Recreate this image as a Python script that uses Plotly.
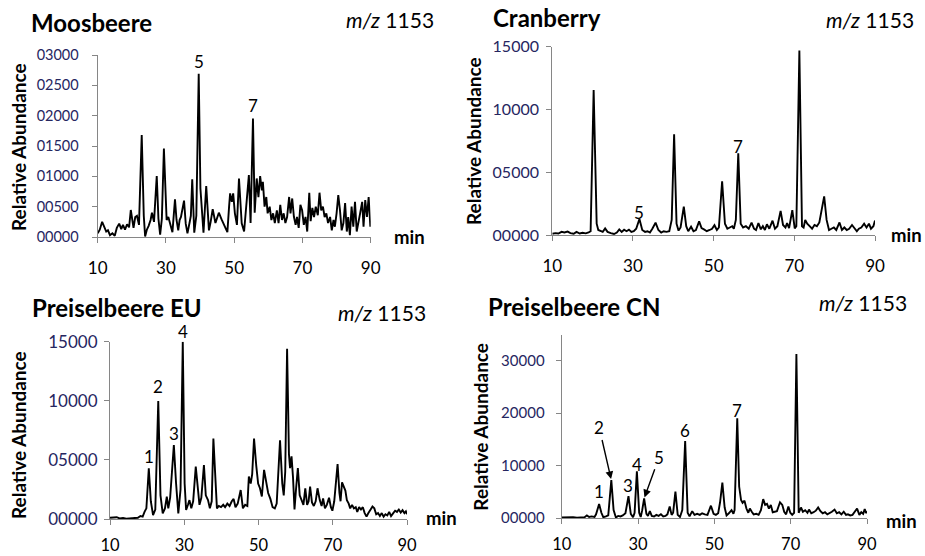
import plotly.graph_objects as go

W, H = 925, 556
FONT = "Lato"

# ---- Moosbeere: retention time (min) and abundance ----
moos_t = [10.0, 10.6, 11.3, 11.9, 12.5, 13.0, 13.6, 14.3, 15.0, 15.6, 16.3, 16.9, 17.4, 18.0, 18.6,
          19.2, 19.7, 20.5, 21.0, 21.5, 22.1, 22.9, 23.5, 23.9, 24.4, 24.9, 25.5, 25.9, 26.5, 27.3,
          27.8, 28.3, 28.8, 29.4, 30.0, 30.2, 30.7, 31.2, 31.9, 32.65, 33.1, 33.6, 34.0, 34.4, 35.3,
          35.8, 36.3, 36.9, 37.3, 37.7, 38.3, 38.9, 39.6, 40.1, 40.5, 41.0, 41.8, 42.6, 43.1, 43.7,
          44.5, 45.0, 45.5, 46.3, 47.3, 48.0, 48.5, 48.8, 49.3, 49.7, 50.2, 50.8, 51.4, 52.2, 52.9,
          53.7, 54.3, 54.8, 55.5, 56.0, 56.6, 57.1, 57.6, 58.1, 58.4, 58.9, 59.4, 59.8, 60.4, 60.9,
          61.4, 61.9, 62.5, 63.0, 63.5, 64.0, 64.5, 65.0, 65.5, 66.1, 66.5, 67.0, 67.5, 68.0, 68.4,
          68.9, 69.4, 69.9, 70.4, 70.9, 71.4, 72.0, 72.4, 72.9, 73.4, 73.9, 74.5, 75.0, 75.5, 76.0,
          76.5, 77.0, 77.5, 78.1, 78.6, 79.1, 79.5, 80.0, 80.5, 81.0, 81.5, 82.0, 82.5, 83.0, 83.4,
          83.9, 84.4, 84.9, 85.4, 85.9, 86.4, 86.9, 87.5, 87.9, 88.4, 88.9, 89.4, 89.9]
moos_y = [60, 120, 250, 180, 90, 110, 30, 60, 20, 150, 220, 130, 200, 120, 210,
          160, 445, 150, 330, 350, 200, 1680, 350, 10, 120, 180, 280, 400, 250, 1005,
          300, 40, 300, 1460, 450, 280, 330, 230, 80, 620, 280, 110, 280, 330, 600,
          220, 60, 230, 350, 950, 70, 350, 2690, 800, 510, 70, 840, 110, 250, 460,
          230, 330, 400, 290, 170, 80, 500, 720, 580, 720, 390, 200, 965, 225, 90,
          665, 1020, 230, 1955, 400, 965, 655, 1005, 770, 910, 500, 660, 390, 500, 280,
          390, 230, 440, 230, 530, 280, 390, 230, 330, 660, 390, 635, 330, 200, 330,
          150, 530, 440, 200, 330, 90, 730, 260, 480, 330, 500, 360, 730, 440, 500,
          330, 390, 230, 330, 110, 280, 170, 390, 690, 440, 110, 230, 560, 90, 330,
          30, 500, 170, 580, 90, 280, 390, 580, 170, 610, 330, 660, 170]

# ---- Cranberry ----
cran_t = [10.0, 10.8, 11.5, 12.3, 13.0, 13.8, 14.5, 15.3, 16.0, 16.8, 17.5, 18.3, 19.0, 19.5, 20.25,
          21.0, 21.4, 22.0, 22.5, 23.1, 23.7, 24.5, 25.3, 26.0, 26.6, 27.2, 27.8, 28.4, 29.0, 29.6,
          30.2, 30.8, 31.6, 32.3, 33.0, 33.6, 34.2, 34.8, 35.6, 36.3, 37.0, 37.6, 38.3, 39.0, 39.6,
          40.2, 40.8, 41.3, 41.8, 42.6, 43.2, 43.7, 44.4, 45.0, 45.6, 46.4, 47.0, 47.6, 48.3, 49.0,
          49.6, 50.2, 50.8, 51.3, 52.1, 52.8, 53.4, 54.0, 54.6, 55.0, 55.5, 56.1, 56.7, 57.3, 58.0,
          58.7, 59.4, 60.0, 60.5, 61.1, 61.7, 62.2, 62.7, 63.2, 63.8, 64.6, 65.2, 65.8, 66.6, 67.2,
          67.8, 68.2, 68.7, 69.5, 70.1, 70.5, 71.25, 71.9, 72.3, 72.7, 73.2, 73.8, 74.4, 75.0, 75.6,
          76.2, 76.7, 77.4, 78.0, 78.6, 79.2, 79.8, 80.4, 81.2, 81.8, 82.4, 83.0, 83.6, 84.3, 84.9,
          85.5, 86.0, 86.6, 87.3, 87.9, 88.5, 89.0, 89.6, 90.0]
cran_y = [100, 150, 120, 250, 200, 270, 150, 100, 250, 120, 180, 130, 200, 300, 11550,
          900, 400, 300, 250, 530, 250, 150, 80, 200, 450, 250, 420, 300, 430, 250,
          300, 500, 1275, 400, 250, 300, 200, 500, 980, 400, 200, 300, 250, 300, 1200,
          8020, 900, 350, 600, 2260, 700, 300, 660, 300, 400, 1080, 550, 450, 300, 400,
          500, 780, 400, 600, 4280, 900, 500, 600, 700, 500, 1200, 6500, 900, 600, 700,
          500, 980, 500, 400, 950, 450, 700, 400, 850, 500, 1140, 500, 700, 1920, 800,
          600, 950, 550, 1980, 530, 700, 14700, 700, 600, 1200, 900, 700, 500, 800, 700,
          1000, 1800, 3080, 1200, 400, 500, 600, 400, 1000, 400, 600, 400, 500, 800, 500,
          300, 500, 600, 900, 600, 900, 500, 700, 1150]

# ---- Preiselbeere EU ----
eu_t = [10.0, 11.0, 11.8, 12.6, 13.5, 14.4, 15.2, 16.0, 16.8, 17.5, 18.2, 18.8, 19.3, 19.8, 20.45,
        21.0, 21.6, 22.2, 23.0, 23.6, 24.2, 24.8, 25.3, 25.7, 26.2, 26.8, 27.2, 27.8, 28.4, 29.0,
        29.6, 30.1, 30.5, 31.0, 31.4, 31.9, 32.4, 33.1, 33.6, 34.1, 34.6, 35.3, 35.8, 36.4, 36.9,
        37.4, 37.85, 38.4, 38.8, 39.3, 39.9, 40.5, 41.0, 41.6, 42.2, 42.8, 43.3, 43.8, 44.4, 45.2,
        45.8, 46.4, 47.0, 47.4, 47.9, 48.3, 48.8, 49.4, 49.9, 50.4, 50.9, 51.5, 52.0, 52.6, 53.2,
        53.8, 54.4, 54.9, 55.8, 56.4, 56.8, 57.2, 57.7, 58.2, 58.5, 58.9, 59.3, 59.7, 60.1, 60.6,
        61.1, 61.6, 62.1, 62.6, 63.1, 63.5, 63.9, 64.4, 64.9, 65.4, 65.9, 66.5, 67.0, 67.4, 67.9,
        68.4, 69.0, 69.5, 69.9, 70.4, 71.3, 71.8, 72.1, 72.5, 73.0, 73.4, 73.8, 74.3, 74.7, 75.2,
        75.7, 76.2, 76.6, 77.1, 77.6, 78.1, 78.6, 79.1, 79.6, 80.2, 80.7, 81.2, 81.7, 82.2, 82.7,
        83.2, 83.7, 84.2, 84.7, 85.2, 85.7, 86.3, 86.8, 87.3, 87.8, 88.3, 88.8, 89.3, 89.7, 90.0]
eu_y = [100, 100, 150, 50, 80, 30, 60, 50, 120, 100, 250, 200, 600, 900, 4290,
        1500, 330, 800, 9980, 2000, 480, 900, 1900, 900, 1800, 4200, 6260, 3000, 480, 2500,
        15000, 3000, 760, 1200, 1600, 900, 1500, 4430, 2600, 1200, 1800, 4570, 2000, 1600, 900,
        1500, 6800, 2500, 900, 1100, 1000, 1200, 1000, 1300, 1100, 1500, 1700, 1000, 1300, 2450,
        900, 1200, 1100, 3600, 3000, 3800, 6800, 4500, 3000, 2600, 1900, 4150, 3400, 2200, 1700,
        1000, 900, 1300, 6650, 3000, 2000, 4000, 14400, 5500, 4300, 5300, 3500, 800, 2500, 4300,
        2000, 1600, 1200, 2600, 1200, 1500, 2750, 1400, 1100, 1500, 2600, 1600, 1100, 1750, 900,
        1200, 1800, 1000, 700, 1500, 4650, 2200, 1500, 3100, 2600, 2400, 1600, 1300, 900, 1200,
        900, 1000, 600, 1000, 800, 1000, 500, 200, 500, 800, 1050, 900, 400, 500, 250,
        500, 200, 400, 300, 600, 250, 500, 700, 600, 800, 550, 750, 500, 650, 400]

# ---- Preiselbeere CN ----
cn_t = [10.0, 11.0, 12.0, 13.0, 14.0, 15.0, 16.0, 16.6, 17.2, 17.8, 18.6, 19.0, 19.8, 20.4, 20.9,
        21.6, 22.2, 23.0, 23.6, 24.2, 24.8, 25.4, 26.0, 26.7, 27.5, 28.1, 28.7, 29.1, 29.7, 30.3,
        30.7, 31.1, 31.6, 32.2, 32.6, 33.1, 33.6, 34.2, 34.8, 35.4, 36.0, 36.6, 37.2, 37.7, 38.3,
        38.8, 39.2, 39.8, 40.4, 41.0, 41.6, 42.35, 43.0, 43.5, 44.2, 44.8, 45.5, 46.2, 46.8, 47.5,
        48.2, 49.1, 49.8, 50.4, 51.0, 51.5, 52.1, 52.7, 53.2, 53.8, 54.5, 55.0, 55.3, 56.0, 56.5,
        57.0, 57.4, 57.9, 58.4, 58.9, 59.3, 59.8, 60.3, 61.0, 61.6, 62.2, 62.8, 63.3, 63.8, 64.3,
        64.8, 65.3, 65.8, 66.4, 67.2, 67.8, 68.3, 68.8, 69.4, 69.9, 70.4, 70.9, 71.5, 72.1, 72.7,
        73.2, 73.8, 74.4, 74.8, 75.4, 76.0, 76.6, 77.2, 77.8, 78.4, 79.0, 79.6, 80.2, 80.8, 81.5,
        82.1, 82.7, 83.3, 83.9, 84.5, 85.0, 85.6, 86.2, 86.8, 87.4, 88.0, 88.5, 89.0, 89.4, 89.8, 90.0]
cn_y = [100, 150, 100, 150, 80, 120, 150, 500, 200, 300, 200, 700, 2650, 1000, 150,
        300, 500, 7250, 1500, 100, 400, 300, 500, 900, 4150, 800, 150, 1000, 8900, 1000,
        200, 1500, 3750, 800, 400, 1300, 400, 300, 600, 400, 700, 300, 400, 700, 2200,
        600, 1000, 5050, 600, 200, 1500, 14700, 1000, 300, 1300, 600, 800, 600, 900, 700,
        600, 2350, 800, 600, 900, 3000, 6750, 2000, 500, 900, 1500, 800, 1500, 19000, 6000,
        3430, 2900, 3300, 1800, 1000, 1800, 1200, 700, 800, 600, 1500, 3600, 2500, 2700, 1800,
        2500, 1100, 1200, 1300, 3000, 2500, 1200, 700, 2200, 1000, 600, 1000, 31300, 1000, 2000,
        1200, 1500, 1000, 1600, 900, 1100, 1400, 2000, 1300, 900, 1100, 700, 900, 1200, 1600,
        900, 1100, 700, 1200, 600, 700, 500, 600, 1300, 1800, 600, 1100, 800, 1700, 900, 1300]

# axis ticks
XTICKS = [10, 30, 50, 70, 90]
YTICKS_MOOS = [0, 500, 1000, 1500, 2000, 2500, 3000]
YTICKS_CRAN = [0, 5000, 10000, 15000]
YTICKS_EU = [0, 5000, 10000, 15000]
YTICKS_CN = [0, 10000, 20000, 30000]

# numbered peaks: (label, retention time) per sample
PEAKS_MOOS = [("5", 39.6), ("7", 55.5)]
PEAKS_CRAN = [("5", 31.6), ("7", 56.1)]
PEAKS_EU = [("1", 20.45), ("2", 23.0), ("3", 27.2), ("4", 29.6)]
PEAKS_CN = [("1", 19.8), ("2", 23.0), ("3", 27.5), ("4", 29.7), ("5", 31.6), ("6", 42.35), ("7", 56.0)]

TITLES = ["Moosbeere", "Cranberry", "Preiselbeere EU", "Preiselbeere CN"]


def px(x):
    return x / W


def py(y):
    return 1 - y / H


AXIS_GRAY = "#868686"
TICK_BLUE = "#26265f"

# layout per panel in page pixels (x from left, y from top)
panels = [
    dict(t=moos_t, y=moos_y, yt=YTICKS_MOOS, ymax=3000, peaks=PEAKS_MOOS,
         xd=(97.7, 370.7), yd=(237, 55), yfs=14.5, ystand=10, xfs=17, xstand=10,
         title=(29, 22.5), mz=(436, 19.5), mn=(392, 237), ytl=(18, 147),
         shifts={"5": 0, "7": 0}),
    dict(t=cran_t, y=cran_y, yt=YTICKS_CRAN, ymax=15000, peaks=PEAKS_CRAN,
         xd=(552.3, 875), yd=(235, 46.7), yfs=16, ystand=4, xfs=17, xstand=10,
         title=(491, 17.5), mz=(916, 19), mn=(889, 235.5), ytl=(473, 141),
         shifts={"5": -6, "7": -6}),
    dict(t=eu_t, y=eu_y, yt=YTICKS_EU, ymax=15000, peaks=PEAKS_EU,
         xd=(110, 407), yd=(519, 341.7), yfs=17, ystand=3, xfs=16.5, xstand=6,
         title=(30, 307), mz=(428, 312), mn=(424, 517.5), ytl=(18, 435),
         shifts={"1": -1, "2": 2, "3": -1, "4": -2}),
    dict(t=cn_t, y=cn_y, yt=YTICKS_CN, ymax=35000, peaks=PEAKS_CN,
         xd=(561.7, 867), yd=(518, 334.5), yfs=15, ystand=8, xfs=16.5, xstand=6,
         title=(486, 306), mz=(909, 302), mn=(884, 520.5), ytl=(479.7, 427),
         shifts={"1": 0, "3": -2, "4": -6, "6": -2, "7": -5}),
]

# arrows pointing at crowded peaks (text offset in px)
ARROWS_CN = {"2": (-12, -52), "5": (15, -41)}

fig = go.Figure()
annotations = []
layout = dict(
    template="none",
    width=W, height=H, autosize=False,
    margin=dict(l=0, r=0, t=0, b=0, pad=0, autoexpand=False),
    paper_bgcolor="white", plot_bgcolor="white", showlegend=False,
    font=dict(family=FONT, color="black"),
)

for i, p in enumerate(panels, start=1):
    xa = "x" if i == 1 else f"x{i}"
    ya = "y" if i == 1 else f"y{i}"
    fig.add_trace(go.Scatter(x=p["t"], y=p["y"], mode="lines", xaxis=xa, yaxis=ya,
                             line=dict(color="black", width=1.9), hoverinfo="skip"))
    layout["xaxis" if i == 1 else f"xaxis{i}"] = dict(
        domain=[px(p["xd"][0]), px(p["xd"][1])], range=[10, 90], anchor=ya,
        tickvals=XTICKS, ticktext=[str(v) for v in XTICKS], automargin=False,
        showline=True, linecolor=AXIS_GRAY, linewidth=1.2,
        ticks="outside", ticklen=5, tickcolor=AXIS_GRAY, tickwidth=1.2,
        showgrid=False, zeroline=False, ticklabelstandoff=p["xstand"],
        tickfont=dict(family=FONT, size=p["xfs"], color="black"),
    )
    layout["yaxis" if i == 1 else f"yaxis{i}"] = dict(
        domain=[py(p["yd"][0]), py(p["yd"][1])], range=[0, p["ymax"]], anchor=xa,
        tickvals=p["yt"], ticktext=[f"{v:05d}" for v in p["yt"]], automargin=False,
        showline=True, linecolor=AXIS_GRAY, linewidth=1.2,
        ticks="outside", ticklen=5, tickcolor=AXIS_GRAY, tickwidth=1.2,
        showgrid=False, zeroline=False, ticklabelstandoff=p["ystand"],
        tickfont=dict(family=FONT, size=p["yfs"], color=TICK_BLUE),
    )

    annotations.append(dict(xref="paper", yref="paper", x=px(p["title"][0]), y=py(p["title"][1]),
                            xanchor="left", yanchor="middle", showarrow=False,
                            text=f"<b>{TITLES[i-1]}</b>", font=dict(size=24)))
    annotations.append(dict(xref="paper", yref="paper", x=px(p["mz"][0]), y=py(p["mz"][1]),
                            xanchor="right", yanchor="middle", showarrow=False,
                            text="<i>m/z</i> 1153", font=dict(size=21)))
    annotations.append(dict(xref="paper", yref="paper", x=px(p["mn"][0]), y=py(p["mn"][1]),
                            xanchor="left", yanchor="middle", showarrow=False,
                            text="<b>min</b>", font=dict(size=18.5)))
    annotations.append(dict(xref="paper", yref="paper", x=px(p["ytl"][0]), y=py(p["ytl"][1]),
                            xanchor="center", yanchor="middle", showarrow=False, textangle=-90,
                            text="<b>Relative Abundance</b>", font=dict(size=19)))

    for lab, tp in p["peaks"]:
        k = p["t"].index(tp)
        yv = p["y"][k]
        if i == 4 and lab in ARROWS_CN:
            ax, ay = ARROWS_CN[lab]
            annotations.append(dict(xref=xa, yref=ya, x=tp, y=yv, text=lab, showarrow=True,
                                    ax=ax, ay=ay, arrowhead=2, arrowsize=1.1, arrowwidth=1.4,
                                    arrowcolor="black", standoff=1, font=dict(size=17)))
        else:
            annotations.append(dict(xref=xa, yref=ya, x=tp, y=yv, text=lab, showarrow=False,
                                    xanchor="center", yanchor="bottom",
                                    yshift=p["shifts"].get(lab, 0), font=dict(size=17)))

layout["annotations"] = annotations
fig.update_layout(**layout)

# page without the browser's default body margin, so the 925x556 figure fills the view
fig.write_html(
    "out.html",
    config={"responsive": False},
    post_script="document.body.style.margin='0';document.body.style.overflow='hidden';",
)
